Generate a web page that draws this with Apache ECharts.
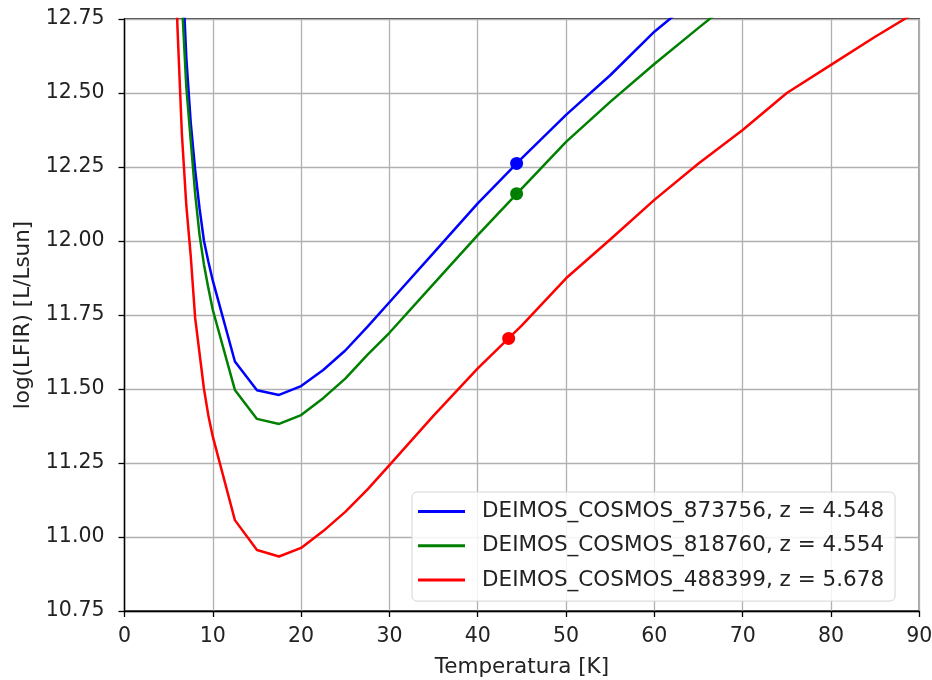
<!DOCTYPE html>
<html>
<head>
<meta charset="utf-8">
<script src="https://cdn.jsdelivr.net/npm/echarts@6/dist/echarts.min.js"></script>
<style>
html,body{margin:0;padding:0;background:#fff;}
#chart{width:932px;height:680px;}
</style>
</head>
<body>
<div id="chart"></div>
<script>
// ---- data ----
const seriesNames = [
  'DEIMOS_COSMOS_873756, z = 4.548',
  'DEIMOS_COSMOS_818760, z = 4.554',
  'DEIMOS_COSMOS_488399, z = 5.678'
];
const seriesColors = ['#0000ff', '#008000', '#ff0000'];

const tempBlue = [6.5,7,7.5,8,8.5,9,9.5,10,12.5,15,17.5,20,22.5,25,27.5,30,35,40,45,50,55,60,65];
const lfirBlue = [12.95,12.62,12.40,12.24,12.11,12.0,11.93,11.866,11.593,11.496,11.48,11.51,11.564,11.63,11.71,11.793,11.96,12.127,12.28,12.426,12.56,12.707,12.83];

const tempGreen = [6.5,7,7.5,8,8.5,9,9.5,10,12.5,15,17.5,20,22.5,25,27.5,30,35,40,45,50,55,60,65,70];
const lfirGreen = [12.81,12.52,12.34,12.16,12.02,11.92,11.84,11.767,11.497,11.399,11.382,11.412,11.469,11.535,11.615,11.69,11.855,12.02,12.178,12.335,12.47,12.598,12.72,12.84];

const tempRed = [5.5,6,6.5,7,7.5,8,8.5,9,9.5,10,12.5,15,17.5,20,22.5,25,27.5,30,35,40,45,50,55,60,65,70,75,80,85,90];
const lfirRed = [13.2,12.72,12.36,12.12,11.95,11.74,11.62,11.5,11.41,11.339,11.057,10.956,10.934,10.963,11.02,11.085,11.16,11.243,11.41,11.57,11.715,11.874,12.005,12.139,12.262,12.375,12.5,12.595,12.69,12.78];

const dotTemp = [44.4, 44.4, 43.5];
const dotLfir = [12.262, 12.16, 11.671];

const xTicks = {min: 0, max: 90, step: 10};
const yTicks = {min: 10.75, max: 12.75, step: 0.25};

// ---- chart ----
const FONT = 'DejaVu Sans';
const pairs = (xs, ys) => xs.map((x, i) => [x, ys[i]]);
const temps = [tempBlue, tempGreen, tempRed];
const lfirs = [lfirBlue, lfirGreen, lfirRed];

const series = [];
for (let i = 0; i < 3; i++) {
  series.push({
    name: seriesNames[i], type: 'line', data: pairs(temps[i], lfirs[i]),
    showSymbol: false, clip: true, z: 2 + i,
    lineStyle: {color: seriesColors[i], width: 2.5},
    itemStyle: {color: seriesColors[i]}
  });
}
for (let i = 0; i < 3; i++) {
  series.push({
    name: 'dot' + i, type: 'scatter', data: [[dotTemp[i], dotLfir[i]]],
    symbolSize: 13, z: 6,
    itemStyle: {color: seriesColors[i], opacity: 1}
  });
}

const chart = echarts.init(document.getElementById('chart'), null, {renderer: 'canvas'});
chart.setOption({
  animation: false,
  backgroundColor: '#ffffff',
  grid: {left: 124.5, right: 12.7, top: 19, bottom: 69, containLabel: false, outerBoundsMode: 'none',
         show: true, borderColor: '#000', borderWidth: 1.3, backgroundColor: 'transparent'},
  xAxis: {
    type: 'value', min: xTicks.min, max: xTicks.max, interval: xTicks.step,
    name: 'Temperatura [K]', nameLocation: 'middle', nameGap: 45,
    nameTextStyle: {fontFamily: FONT, fontSize: 21.5, color: '#222'},
    axisLine: {show: true, lineStyle: {color: '#000', width: 1.3}},
    axisTick: {show: true, length: 6, lineStyle: {color: '#000', width: 1.3}},
    axisLabel: {fontFamily: FONT, fontSize: 20.5, color: '#222', margin: 15},
    splitLine: {show: true, lineStyle: {color: '#b0b0b0', width: 1.3}}
  },
  yAxis: {
    type: 'value', min: yTicks.min, max: yTicks.max, interval: yTicks.step,
    name: 'log(LFIR) [L/Lsun]', nameLocation: 'middle', nameGap: 89, nameRotate: 90,
    nameTextStyle: {fontFamily: FONT, fontSize: 21.5, color: '#222'},
    axisLine: {show: true, lineStyle: {color: '#000', width: 1.3}},
    axisTick: {show: true, length: 6, lineStyle: {color: '#000', width: 1.3}},
    axisLabel: {fontFamily: FONT, fontSize: 20.5, color: '#222', margin: 20, formatter: v => v.toFixed(2)},
    splitLine: {show: true, lineStyle: {color: '#b0b0b0', width: 1.3}}
  },
  legend: {
    data: seriesNames, orient: 'vertical', left: 412, top: 492,
    icon: 'rect', itemWidth: 47, itemHeight: 3, itemGap: 12.3,
    backgroundColor: 'rgba(255,255,255,0.85)', borderColor: '#d6d6d6', borderWidth: 1, borderRadius: 5,
    padding: [8.5, 11, 10, 6],
    textStyle: {fontFamily: FONT, fontSize: 21.5, color: '#222', lineHeight: 21, padding: [0, 0, 0, 12]}
  },
  series: series
});
</script>
</body>
</html>
